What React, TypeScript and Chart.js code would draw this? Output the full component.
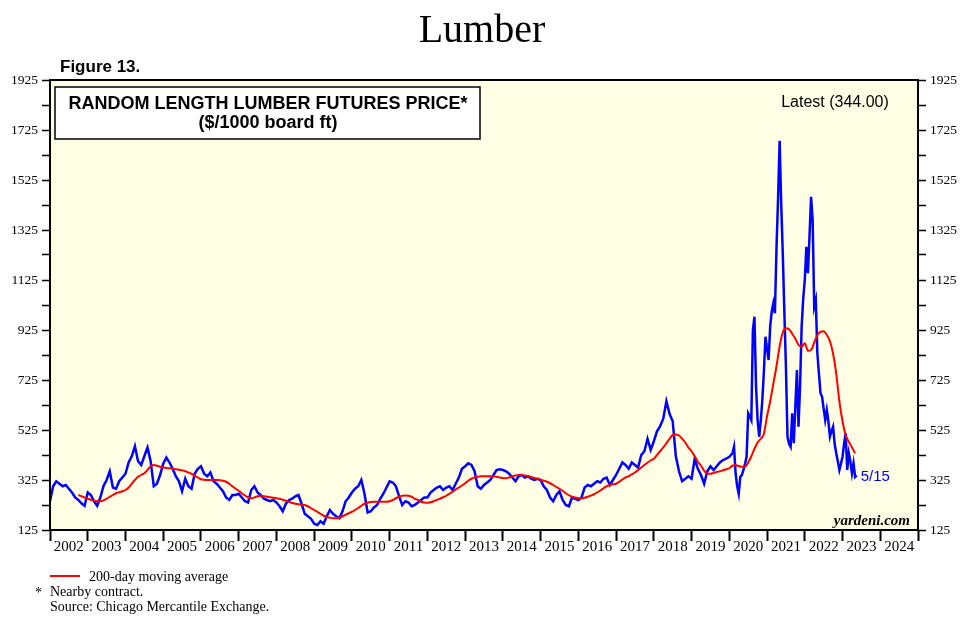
import React, { useEffect, useRef } from "react";
import { Chart, registerables } from "chart.js";

Chart.register(...registerables);

// ---------- text ----------
const chartTitle = "Lumber";
const figureLabel = "Figure 13.";
const boxTitleLines = ["RANDOM LENGTH LUMBER FUTURES PRICE*", "($/1000 board ft)"];
const latestDateLabel = "5/15";
const legendLabel = "200-day moving average";
const footnoteMark = "*";
const footnoteLines = ["Nearby contract.", "Source: Chicago Mercantile Exchange."];
const watermark = "yardeni.com";

// ---------- axes ----------
const yearLabels = [
  "2002", "2003", "2004", "2005", "2006", "2007", "2008", "2009", "2010", "2011", "2012",
  "2013", "2014", "2015", "2016", "2017", "2018", "2019", "2020", "2021", "2022", "2023", "2024",
];
const yTickValues = [125, 225, 325, 425, 525, 625, 725, 825, 925, 1025, 1125, 1225, 1325, 1425, 1525, 1625, 1725, 1825, 1925];
const yLabeledTicks = [125, 325, 525, 725, 925, 1125, 1325, 1525, 1725, 1925];
const yMin = 125;
const yMax = 1925;

// ---------- data ----------
// Lumber futures price, monthly, Jan 2002 .. Dec 2019
const priceMonthlyStartYear = 2002;
const priceMonthly = [
  240, 300, 320, 310, 300, 305, 290, 275, 255, 245, 232, 222, // 2002
  275, 265, 240, 222, 255, 300, 325, 360, 295, 290, 320, 335, // 2003
  350, 395, 420, 460, 400, 385, 420, 455, 400, 300, 310, 345, // 2004
  390, 415, 395, 370, 340, 320, 280, 330, 300, 290, 350, 370, // 2005
  380, 350, 340, 355, 320, 310, 295, 280, 255, 245, 265, 265, // 2006
  270, 255, 240, 235, 285, 300, 275, 265, 250, 245, 240, 245, // 2007
  235, 220, 200, 230, 245, 250, 260, 265, 230, 190, 180, 170, // 2008
  150, 145, 160, 150, 180, 205, 190, 180, 172, 200, 240, 255, // 2009
  275, 290, 300, 325, 270, 195, 200, 215, 225, 250, 270, 295, // 2010
  320, 315, 300, 260, 225, 240, 235, 220, 225, 235, 245, 255, // 2011
  255, 275, 285, 295, 300, 285, 295, 300, 285, 310, 335, 370, // 2012
  380, 392, 385, 360, 300, 290, 305, 315, 325, 345, 365, 368, // 2013
  365, 360, 350, 335, 320, 340, 345, 335, 340, 330, 325, 330, // 2014
  325, 300, 285, 255, 240, 265, 280, 245, 225, 220, 255, 250, // 2015
  245, 255, 295, 305, 300, 310, 320, 315, 330, 335, 305, 325, // 2016
  345, 370, 395, 385, 370, 395, 385, 375, 425, 440, 490, 445, // 2017
  480, 520, 540, 570, 640, 590, 560, 420, 360, 320, 330, 340, // 2018
  330, 410, 370, 345, 310, 360, 380, 365, 380, 395, 405, 410, // 2019
];
// Lumber futures price, twice a month, Jan 2020 .. mid-May 2023
const priceSemiMonthlyStartYear = 2020;
const priceSemiMonthly = [
  418, 425, 432, 458, 352, 300, 270, 338, 345, 365, 390, 418, // 2020 H1
  592, 580, 565, 925, 978, 700, 565, 498, 560, 645, 760, 898, // 2020 H2
  850, 805, 940, 1000, 1032, 992, 1250, 1450, 1682, 1432, 1232, 1000, // 2021 H1
  780, 498, 470, 458, 592, 472, 620, 765, 538, 700, 938, 1050, // 2021 H2
  1125, 1258, 1152, 1300, 1458, 1365, 1018, 1045, 832, 750, 672, 658, // 2022 H1
  610, 565, 605, 560, 498, 520, 538, 470, 432, 400, 365, 390, // 2022 H2
  418, 470, 512, 365, 432, 400, 352, 392, 338, 344, // 2023
];
// 200-day moving average, monthly, Oct 2002 .. May 2023
const movingAvgStartYear = 2002 + 9 / 12;
const movingAvgMonthly = [
  265, 260, 255, // 2002
  250, 246, 242, 240, 240, 243, 250, 258, 265, 272, 276, 280, // 2003
  285, 295, 310, 325, 338, 345, 352, 365, 380, 385, 382, 378, // 2004
  375, 373, 372, 370, 368, 366, 364, 360, 355, 350, 342, 335, // 2005
  328, 326, 325, 325, 326, 325, 324, 322, 318, 310, 300, 290, // 2006
  282, 272, 263, 255, 252, 255, 260, 262, 260, 258, 256, 254, // 2007
  252, 250, 246, 242, 238, 233, 230, 228, 226, 225, 220, 212, // 2008
  205, 198, 190, 182, 177, 174, 172, 172, 174, 180, 186, 192, // 2009
  198, 205, 213, 222, 230, 234, 237, 238, 238, 238, 238, 238, // 2010
  240, 245, 252, 258, 262, 263, 262, 258, 250, 245, 238, 235, // 2011
  234, 236, 240, 245, 250, 256, 262, 270, 278, 287, 295, 303, // 2012
  312, 322, 330, 335, 338, 340, 340, 340, 340, 340, 338, 335, // 2013
  333, 332, 335, 340, 343, 345, 345, 343, 340, 337, 333, 330, // 2014
  326, 322, 318, 312, 305, 297, 290, 282, 272, 264, 258, 255, // 2015
  252, 252, 254, 258, 263, 268, 275, 283, 292, 300, 305, 308, // 2016
  310, 318, 327, 335, 340, 348, 355, 365, 375, 385, 395, 403, // 2017
  410, 425, 440, 455, 472, 490, 505, 507, 503, 490, 475, 455, // 2018
  440, 420, 398, 382, 362, 350, 350, 353, 357, 360, 364, 368, // 2019
  372, 382, 385, 380, 378, 378, 395, 420, 450, 475, 490, 510, // 2020
  580, 640, 710, 780, 860, 915, 932, 928, 910, 890, 865, 858, // 2021
  872, 842, 845, 875, 905, 918, 920, 905, 880, 830, 750, 640, // 2022
  560, 505, 478, 455, 432, // 2023
];

// ---------- styles ----------
const SERIF = "'Liberation Serif', 'Times New Roman', serif";
const SANS = "'Liberation Sans', Arial, Helvetica, sans-serif";
const PLOT_BG = "#FFFFE6";
const PRICE_COLOR = "#0000FF";
const MA_COLOR = "#FF0000";

const pricePoints = [
  ...priceMonthly.map((v, i) => ({ x: priceMonthlyStartYear + i / 12, y: v })),
  ...priceSemiMonthly.map((v, i) => ({ x: priceSemiMonthlyStartYear + i / 24, y: v })),
];
const maPoints = movingAvgMonthly.map((v, i) => ({ x: movingAvgStartYear + i / 12, y: v }));

const firstYear = Number(yearLabels[0]);
const lastYearEnd = Number(yearLabels[yearLabels.length - 1]) + 1;
const xTickValues: number[] = [];
for (let y = firstYear; y <= lastYearEnd; y++) {
  xTickValues.push(y);
  if (y < lastYearEnd) xTickValues.push(y + 0.5);
}

const decorPlugin = {
  id: "decor",
  beforeDraw(chart: any) {
    const { ctx, chartArea: a } = chart;
    ctx.save();
    ctx.fillStyle = "#ffffff";
    ctx.fillRect(0, 0, chart.width, chart.height);
    ctx.fillStyle = PLOT_BG;
    ctx.fillRect(a.left, a.top, a.right - a.left, a.bottom - a.top);
    ctx.restore();
  },
  afterDatasetsDraw(chart: any) {
    const { ctx, chartArea: a } = chart;
    const xs = chart.scales.x;
    const ys = chart.scales.y;
    ctx.save();
    // title
    ctx.fillStyle = "#000";
    ctx.textAlign = "center";
    ctx.textBaseline = "alphabetic";
    ctx.font = `40px ${SERIF}`;
    ctx.fillText(chartTitle, 482, 42);
    // figure label
    ctx.textAlign = "left";
    ctx.font = `bold 17px ${SANS}`;
    ctx.fillText(figureLabel, 60, 72);
    // boxed title
    ctx.fillStyle = "#fff";
    ctx.fillRect(55, 87, 425, 52);
    ctx.strokeStyle = "#000";
    ctx.lineWidth = 1.5;
    ctx.strokeRect(55, 87, 425, 52);
    ctx.fillStyle = "#000";
    ctx.textAlign = "center";
    ctx.font = `bold 18px ${SANS}`;
    ctx.fillText(boxTitleLines[0], 268, 109);
    ctx.fillText(boxTitleLines[1], 268, 128);
    // latest
    const last = pricePoints[pricePoints.length - 1];
    ctx.font = `16px ${SANS}`;
    ctx.fillText(`Latest (${last.y.toFixed(2)})`, 835, 107);
    // date label at last point
    ctx.textAlign = "left";
    ctx.textBaseline = "middle";
    ctx.fillStyle = PRICE_COLOR;
    ctx.font = `15px ${SANS}`;
    ctx.fillText(latestDateLabel, xs.getPixelForValue(last.x) + 4, ys.getPixelForValue(last.y) + 2);
    // watermark
    ctx.fillStyle = "#000";
    ctx.textAlign = "right";
    ctx.textBaseline = "alphabetic";
    ctx.font = `italic bold 15px ${SERIF}`;
    ctx.fillText(watermark, a.right - 8, a.bottom - 5);
    // border
    ctx.strokeStyle = "#000";
    ctx.lineWidth = 2;
    ctx.strokeRect(a.left, a.top, a.right - a.left, a.bottom - a.top);
    // legend + footnotes
    ctx.strokeStyle = MA_COLOR;
    ctx.lineWidth = 2;
    ctx.beginPath();
    ctx.moveTo(50, 576);
    ctx.lineTo(80, 576);
    ctx.stroke();
    ctx.fillStyle = "#000";
    ctx.textAlign = "left";
    ctx.font = `14px ${SERIF}`;
    ctx.fillText(legendLabel, 89, 581);
    ctx.fillText(footnoteMark, 35, 597);
    ctx.fillText(footnoteLines[0], 50, 596);
    ctx.fillText(footnoteLines[1], 50, 611);
    ctx.restore();
  },
};

function yAxis(position: "left" | "right", width: number) {
  return {
    type: "linear" as const,
    position,
    min: yMin,
    max: yMax,
    afterBuildTicks: (axis: any) => {
      axis.ticks = yTickValues.map((v) => ({ value: v }));
    },
    afterFit: (axis: any) => {
      axis.width = width;
    },
    grid: { drawOnChartArea: false, drawTicks: true, tickLength: 8, tickWidth: 1.5, tickColor: "#000" },
    border: { display: true, color: "#000", width: 2 },
    ticks: {
      autoSkip: false,
      padding: 4,
      color: "#000",
      font: { family: SERIF, size: 13.5 },
      callback: (v: any) => (yLabeledTicks.includes(Number(v)) ? String(v) : ""),
    },
  };
}

export default function App() {
  const ref = useRef<HTMLCanvasElement | null>(null);
  useEffect(() => {
    document.body.style.margin = "0";
    if (!ref.current) return;
    const chart = new Chart(ref.current, {
      type: "line",
      data: {
        datasets: [
          {
            data: maPoints,
            borderColor: MA_COLOR,
            borderWidth: 2,
            pointRadius: 0,
            cubicInterpolationMode: "monotone",
            fill: false,
          },
          {
            data: pricePoints,
            borderColor: PRICE_COLOR,
            borderWidth: 2.5,
            pointRadius: 0,
            tension: 0,
            fill: false,
          },
        ],
      },
      options: {
        responsive: false,
        animation: false,
        events: [],
        layout: { padding: { top: 80, left: 0, right: 0, bottom: 0 } },
        plugins: { legend: { display: false }, tooltip: { enabled: false }, title: { display: false } },
        scales: {
          x: {
            type: "linear",
            min: firstYear,
            max: lastYearEnd,
            afterBuildTicks: (axis: any) => {
              axis.ticks = xTickValues.map((v) => ({ value: v }));
            },
            afterFit: (axis: any) => {
              axis.height = 92;
            },
            grid: {
              drawOnChartArea: false,
              drawTicks: true,
              tickLength: 11,
              tickWidth: 2,
              tickColor: (c: any) => (Number.isInteger(c.tick?.value) ? "#000" : "rgba(0,0,0,0)"),
            },
            border: { display: true, color: "#000", width: 2 },
            ticks: {
              autoSkip: false,
              maxRotation: 0,
              minRotation: 0,
              padding: -3,
              color: "#000",
              font: { family: SERIF, size: 15 },
              callback: (v: any) => {
                const n = Number(v);
                return Number.isInteger(n) ? "" : yearLabels[Math.floor(n) - firstYear] ?? "";
              },
            },
          },
          y: yAxis("left", 50),
          y2: yAxis("right", 42),
        },
      },
      plugins: [decorPlugin],
    } as any);
    return () => chart.destroy();
  }, []);
  return (
    <div style={{ position: "absolute", left: 0, top: 0, width: 960, height: 622 }}>
      <canvas ref={ref} width={960} height={622} style={{ display: "block", width: 960, height: 622 }} />
    </div>
  );
}
